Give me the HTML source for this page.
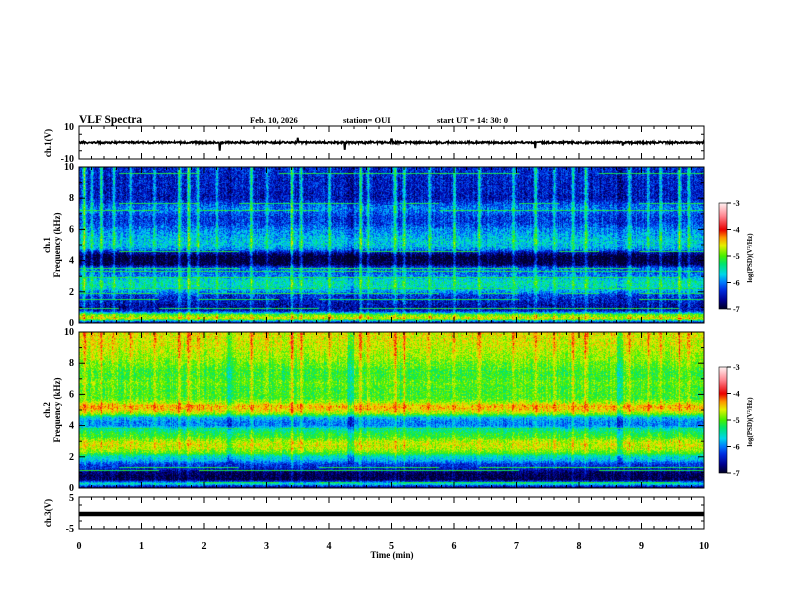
<!DOCTYPE html>
<html><head><meta charset="utf-8">
<style>
html,body{margin:0;padding:0;background:#fff;}
#wrap{position:relative;width:792px;height:612px;overflow:hidden;font-family:"Liberation Serif",serif;font-weight:bold;}
canvas{position:absolute;}
svg{position:absolute;left:0;top:0;}
svg text{font-family:"Liberation Serif",serif;font-weight:bold;fill:#000;}
</style></head>
<body>
<div id="wrap">
<canvas id="spec1" width="625" height="156" style="left:79px;top:167px"></canvas>
<canvas id="spec2" width="625" height="156" style="left:79px;top:332px"></canvas>
<canvas id="cb1" width="8" height="106" style="left:719px;top:203px"></canvas>
<canvas id="cb2" width="8" height="106" style="left:719px;top:367px"></canvas>
<svg id="ov" width="792" height="612"></svg>
</div>
<script>
// ---- data ----
const freqStepKHz = 0.25;
const ch1Profile = [-6.6,-4.6,-5.0,-6.5,-6.6,-6.5,-6.4,-6.3,-5.9,-5.6,-5.5,-5.6,-6.0,-6.1,-6.1,-6.9,-7.0,-7.0,-6.6,-5.9,-5.7,-5.7,-5.8,-5.9,-6.0,-6.2,-6.3,-6.3,-6.2,-6.0,-6.1,-6.3,-6.5,-6.5,-6.45,-6.45,-6.45,-6.45,-6.4,-6.4,-6.4];
const ch2Profile = [-6.8,-5.5,-6.9,-6.9,-6.8,-6.4,-6.3,-5.8,-5.6,-5.0,-4.75,-4.65,-4.75,-5.1,-5.2,-5.5,-6.0,-6.0,-5.8,-4.9,-4.5,-4.4,-4.8,-5.05,-5.05,-5.05,-5.05,-4.95,-5.05,-5.1,-5.1,-5.0,-4.95,-4.85,-4.8,-4.75,-4.7,-4.65,-4.65,-4.6,-4.6];
const eventTimes = [0.08,0.2,0.35,0.55,0.82,1.2,1.6,1.75,1.9,2.2,2.75,3.0,3.4,3.55,4.0,4.5,4.62,5.05,5.2,5.6,6.0,6.4,6.95,7.3,7.6,7.9,8.1,8.8,9.1,9.3,9.6,9.75];
const eventAmps  = [1.6,1.0,1.4,1.0,0.9,0.8,1.3,1.5,1.0,0.8,1.4,0.9,1.5,1.0,1.0,1.3,1.1,1.5,1.3,0.9,1.0,1.2,1.0,1.3,0.9,1.2,1.3,1.0,0.9,1.0,1.2,1.3];
const gapTimes = [2.4,4.35,8.65];
const ch1LineFreqs = [0.5,0.9,1.5,1.9,2.2,2.9,3.3,3.5,4.6,7.2,7.7,9.6];
const ch2LineFreqs = [0.3,1.1,1.3,2.2,3.8,5.2,6.7];
const wfSpikeTimes = [2.25,3.5,4.25,5.0,7.3,8.7];
const wfSpikeVolts = [-4.5,2.5,-4.0,2.0,-3.0,-1.5];
const wfBaseline = 0.0;
const ch3Level = -0.3;
const xTicks = [0,1,2,3,4,5,6,7,8,9,10];
const freqTicks = [0,2,4,6,8,10];
const cbTicks = [-3,-4,-5,-6,-7];

// ---- geometry ----
const X0=79, X1=704;
const xs = t => X0 + (t/10)*(X1-X0);
function hash(a,b){let h=(a*374761393+b*668265263)|0;h=(h^(h>>>13))*1274126177|0;return ((h^(h>>>16))>>>0)/4294967296;}

const cmap=[[-7,[0,0,40]],[-6.7,[0,0,140]],[-6.3,[0,45,225]],[-6.0,[0,125,255]],[-5.7,[0,215,235]],[-5.3,[0,230,110]],[-5.0,[70,240,0]],[-4.6,[230,240,0]],[-4.3,[255,150,0]],[-4.0,[235,0,0]],[-3.5,[255,130,140]],[-3.0,[255,240,240]]];
function col(v){if(v<=cmap[0][0])return cmap[0][1];for(let i=1;i<cmap.length;i++){if(v<=cmap[i][0]){const a=cmap[i-1],b=cmap[i];const k=(v-a[0])/(b[0]-a[0]);return [0,1,2].map(j=>a[1][j]+(b[1][j]-a[1][j])*k);}}return cmap[cmap.length-1][1];}
function prof(p,f){const x=f/freqStepKHz;const i=Math.min(Math.floor(x),p.length-2);const k=x-i;return p[i]*(1-k)+p[i+1]*k;}

function drawSpec(id,profile,lines,evScale,seed,noiseAmp){
  const cv=document.getElementById(id),ctx=cv.getContext('2d');
  const W=cv.width,H=cv.height,img=ctx.createImageData(W,H);
  for(let c=0;c<W;c++){
    const colN=(hash(c,seed)-0.5)*0.3;
    let ev=0;
    for(let e=0;e<eventTimes.length;e++){const d=Math.abs(xs(eventTimes[e])-X0-c);if(d<2.2)ev=Math.max(ev,eventAmps[e]*evScale*(1-d/2.5));}
    let gap=0;for(const g of gapTimes){const d=Math.abs(xs(g)-X0-c);if(d<3)gap=0.5;}
    for(let r=0;r<H;r++){
      const f=(H-1-r)/(H-1)*10;
      let v=prof(profile,f)+colN+(hash(c*7+seed,r*13)-0.5)*noiseAmp;
      v+=ev*(0.35+0.65*f/10);
      if(f>1.5)v-=gap*(seed==2?0.8:0.4);
      for(const lf of lines){if(Math.abs(lf-f)<0.035&&hash(Math.floor(c/40),r)>0.25)v=Math.max(v,-5.2+(hash(c,r+99)-0.5)*0.4);}
      const k=(r*W+c)*4,rgb=col(v);
      img.data[k]=rgb[0];img.data[k+1]=rgb[1];img.data[k+2]=rgb[2];img.data[k+3]=255;
    }
  }
  ctx.putImageData(img,0,0);
}
drawSpec('spec1',ch1Profile,ch1LineFreqs,1.0,1,0.75);
drawSpec('spec2',ch2Profile,ch2LineFreqs,0.4,2,0.6);
['cb1','cb2'].forEach(id=>{const cv=document.getElementById(id),ctx=cv.getContext('2d');for(let r=0;r<cv.height;r++){const v=-3-(r/(cv.height-1))*4;const c=col(v);ctx.fillStyle=`rgb(${c[0]|0},${c[1]|0},${c[2]|0})`;ctx.fillRect(0,r,cv.width,1);}});

// ---- svg overlay ----
const NS='http://www.w3.org/2000/svg',svg=document.getElementById('ov');
function el(tag,attrs,txt){const e=document.createElementNS(NS,tag);for(const k in attrs)e.setAttribute(k,attrs[k]);if(txt!==undefined)e.textContent=txt;svg.appendChild(e);return e;}
function txt(x,y,s,size,anchor,name,rot){const e=el('text',{x:x,y:y,'font-size':size,'text-anchor':anchor||'start'},s);if(rot)e.setAttribute('transform',`rotate(-90 ${x} ${y})`);

return e;}

const panels=[{n:'ch1-wave',top:126,bot:159},{n:'ch1-spec',top:167,bot:323},{n:'ch2-spec',top:332,bot:488},{n:'ch3-wave',top:497,bot:529}];
panels.forEach(p=>{
  const r=el('rect',{x:X0,y:p.top,width:X1-X0,height:p.bot-p.top,fill:'none',stroke:'#000','stroke-width':1});
  
  
  for(let i=0;i<=50;i++){const x=X0+i*(X1-X0)/50;const L=i%5==0?6:3;
    el('line',{x1:x,y1:p.top,x2:x,y2:p.top+L,stroke:'#000','stroke-width':1});
    el('line',{x1:x,y1:p.bot,x2:x,y2:p.bot-L,stroke:'#000','stroke-width':1});}
});
[[167,323],[332,488]].forEach(([t,b],pi)=>{
  for(let k=0;k<=10;k++){const y=b-(k/10)*(b-t);const L=k%2==0?6:3;
    el('line',{x1:X0,y1:y,x2:X0+L,y2:y,stroke:'#000'});el('line',{x1:X1,y1:y,x2:X1-L,y2:y,stroke:'#000'});}
  freqTicks.forEach(v=>{const y=b-(v/10)*(b-t);txt(X0-5,y+3,String(v),10,'end',`ch${pi+1}-freq-tick-${v}`);});
});
[[126,159,10,-10,'1'],[497,529,5,-5,'3']].forEach(([t,b,hi,lo,ch])=>{
  for(let k=0;k<=4;k++){const y=t+k*(b-t)/4;const L=k%2==0?6:3;el('line',{x1:X0,y1:y,x2:X0+L,y2:y,stroke:'#000'});el('line',{x1:X1,y1:y,x2:X1-L,y2:y,stroke:'#000'});}
  txt(X0-5,t+4,String(hi),10,'end',`ch${ch}-ytick-hi`);
  txt(X0-5,b+3,String(lo),10,'end',`ch${ch}-ytick-lo`);
});
const yW=v=>142.5-(v/20)*33;
let pts=[];
for(let c=0;c<=X1-X0;c+=0.5){let v=wfBaseline+(hash(Math.round(c*2),7)-0.5)*1.2;
  for(let i=0;i<wfSpikeTimes.length;i++){if(Math.abs(xs(wfSpikeTimes[i])-X0-c)<0.6)v=wfSpikeVolts[i];}
  pts.push((X0+c).toFixed(1)+','+yW(v).toFixed(1));}
const wf=el('polyline',{points:pts.join(' '),fill:'none',stroke:'#000','stroke-width':1.6});


const y3=513-(ch3Level/10)*32;
const l3=el('line',{x1:X0,y1:y3,x2:X1,y2:y3,stroke:'#000','stroke-width':4.5});


xTicks.forEach(v=>txt(xs(v),549,String(v),10,'middle','x-tick-'+v));
txt(392,558,'Time  (min)',9,'middle','x-axis-title');
txt(51,143,'ch.1(V)',9,'middle','ch1-wave-title',true);
txt(50,245,'ch.1',9,'middle','ch1-spec-title',true);
txt(60,245,'Frequency  (kHz)',9,'middle','ch1-freq-title',true);
txt(50,410,'ch.2',9,'middle','ch2-spec-title',true);
txt(60,410,'Frequency  (kHz)',9,'middle','ch2-freq-title',true);
txt(51,513,'ch.3(V)',9,'middle','ch3-wave-title',true);
txt(79,123,'VLF Spectra',11.5,'start','chart-title');
txt(250,123,'Feb. 10, 2026',8.5,'start','date-label');
txt(343,123,'station= OUI',8.5,'start','station-label');
txt(437,123,'start  UT =   14: 30: 0',8.5,'start','start-time-label');
[203,367].forEach((t,ci)=>{
  el('rect',{x:719,y:t,width:8,height:106,fill:'none',stroke:'#000','stroke-width':0.6});
  cbTicks.forEach((v,i)=>{const y=t+i*106/4;el('line',{x1:727,y1:y,x2:731,y2:y,stroke:'#000'});txt(733,y+3,String(v),8,'start',`cb${ci+1}-tick-${v}`);});
  txt(752,t+55,'log(PSD)(V²/Hz)',7,'middle',`cb${ci+1}-title`,true);
});
</script>
</body></html>
